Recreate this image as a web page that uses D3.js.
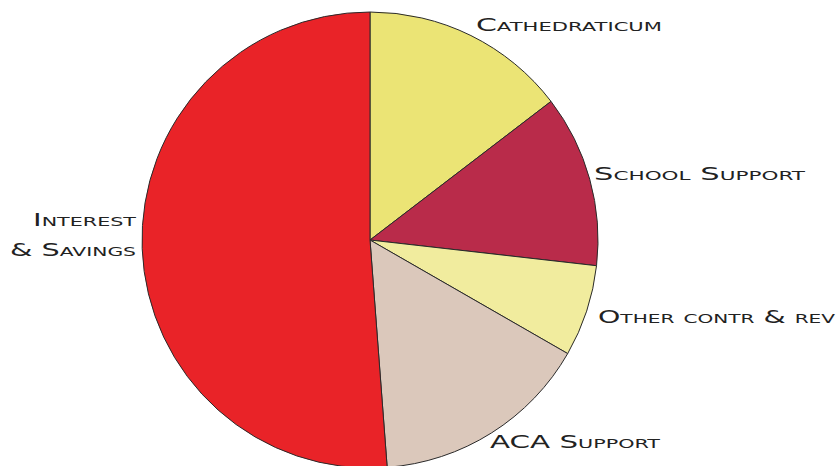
<!DOCTYPE html>
<html>
<head>
<meta charset="utf-8">
<script src="https://cdn.jsdelivr.net/npm/d3@7"></script>
<style>
  html, body { margin: 0; padding: 0; background: #fff; }
  #vis-container { width: 839px; height: 466px; overflow: hidden; }
  .label { font-family: "DejaVu Sans", sans-serif; font-size: 17px; font-variant: small-caps; fill: #222; }
</style>
</head>
<body>
<div id="vis-container"></div>
<script>
"use strict";

// Slices, clockwise from 12 o'clock
const categories = ["Cathedraticum", "School Support", "Other contr & rev", "ACA Support", "Interest & Savings"];
const shares = [14.6, 12.2, 6.5, 15.5, 51.2];
const colors = ["#ebe475", "#b92b4a", "#f1ec9e", "#dbc8bb", "#e92328"];

// Label placement: [x, baseline y, anchor, width, text] per line
const labelLayout = {
    "Cathedraticum": [[476, 31, "start", 186, "Cathedraticum"]],
    "School Support": [[594, 180, "start", 211, "School Support"]],
    "Other contr & rev": [[598, 323, "start", 237, "Other contr & rev"]],
    "ACA Support": [[490, 448, "start", 170, "ACA Support"]],
    "Interest & Savings": [[33, 226, "start", 103, "Interest"], [10, 256, "start", 126, "& Savings"]]
};

function mainIndex()
{
    const width = 839, height = 466;
    const center = { x: 370, y: 240 };
    const radius = 228;

    const svg = d3.select("#vis-container")
        .append("svg")
        .attr("width", width)
        .attr("height", height);

    const pie = d3.pie().sort(null).value(d => d.value);
    const arc = d3.arc().innerRadius(0).outerRadius(radius);

    const data = categories.map((c, i) => ({ name: c, value: shares[i], color: colors[i] }));

    const g = svg.append("g")
        .attr("transform", `translate(${center.x},${center.y})`);

    g.selectAll("path")
        .data(pie(data))
        .enter()
        .append("path")
        .attr("d", arc)
        .style("fill", d => d.data.color)
        .style("stroke", "#2a2a2a")
        .style("stroke-width", 1);

    // Labels
    categories.forEach(c => {
        labelLayout[c].forEach(l => {
            svg.append("text")
                .attr("class", "label")
                .attr("x", l[0])
                .attr("y", l[1])
                .attr("text-anchor", l[2])
                .attr("textLength", l[3])
                .attr("lengthAdjust", "spacingAndGlyphs")
                .text(l[4]);
        });
    });
}

document.addEventListener("DOMContentLoaded", mainIndex);
</script>
</body>
</html>
